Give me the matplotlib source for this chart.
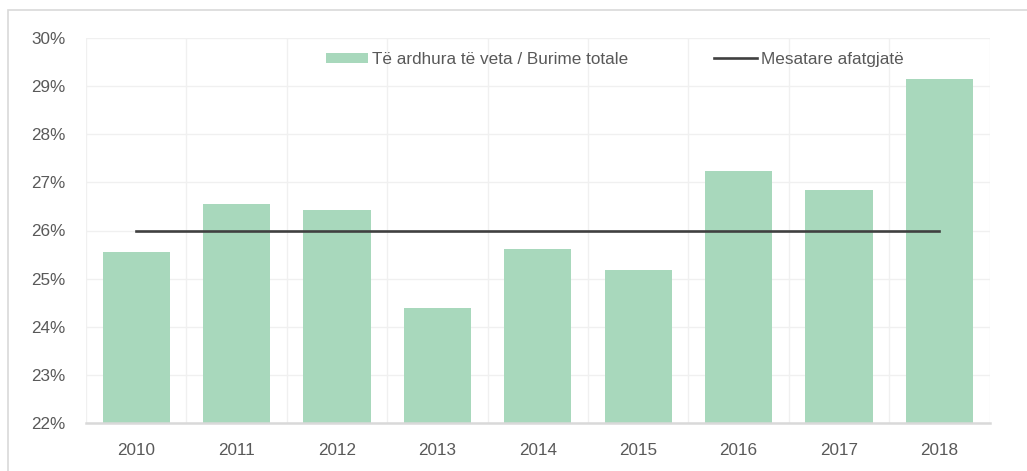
import matplotlib
matplotlib.use("Agg")
import matplotlib.pyplot as plt
from matplotlib.patches import Rectangle
from matplotlib.ticker import FuncFormatter
import numpy as np

years = ["2010", "2011", "2012", "2013", "2014", "2015", "2016", "2017", "2018"]
own_revenue_share = [25.55, 26.56, 26.42, 24.39, 25.62, 25.18, 27.24, 26.83, 29.14]
long_term_mean = [26.0] * len(years)

plt.rcParams["font.family"] = ["Liberation Sans", "DejaVu Sans"]
text_color = "#595959"
bar_color = "#a8d8bc"
line_color = "#404040"
fs = 12.3

fig = plt.figure(figsize=(10.27, 4.71), dpi=100)
ax = fig.add_axes([86 / 1027, 1 - 423.3 / 471, (989.6 - 86) / 1027, (423.3 - 37.7) / 471])

# outer chart frame (only left and top visible in the reference)
fig.patches.append(Rectangle((8 / 1027, -0.01), 1.02, 1 - 10 / 471 + 0.01,
                             transform=fig.transFigure, fill=False,
                             edgecolor="#d9d9d9", linewidth=1.2))

x = np.arange(len(years))
bars = ax.bar(x, own_revenue_share, width=0.67, color=bar_color, zorder=2,
              label="Të ardhura të veta / Burime totale")
line, = ax.plot(x, long_term_mean, color=line_color, linewidth=1.9, zorder=3,
                label="Mesatare afatgjatë")

ax.set_xlim(-0.5, len(years) - 0.5)
ax.set_ylim(22, 30)
ax.set_yticks(np.arange(22, 31, 1))
ax.yaxis.set_major_formatter(FuncFormatter(lambda v, _: f"{v:.0f}%"))
ax.set_xticks(x)
ax.set_xticklabels(years)

# grid at category boundaries and at each percent
ax.set_xticks(np.arange(-0.5, len(years), 1), minor=True)
ax.grid(True, which="minor", axis="x", color="#f0f0f0", linewidth=1, zorder=0)
ax.grid(True, which="major", axis="y", color="#f0f0f0", linewidth=1, zorder=0)
ax.set_axisbelow(True)

for side in ["top", "right", "left"]:
    ax.spines[side].set_visible(False)
ax.spines["bottom"].set_color("#d9d9d9")
ax.spines["bottom"].set_linewidth(1.8)

ax.tick_params(axis="both", which="both", length=0, colors=text_color, labelsize=fs)
ax.tick_params(axis="x", pad=14)
ax.tick_params(axis="y", pad=15)

ax.legend([bars, line], [bars.get_label(), line.get_label()],
          loc="upper center", bbox_to_anchor=(0.585, 1.003), ncol=2, frameon=False,
          fontsize=fs, columnspacing=5.0, handlelength=2.5, handletextpad=0.23,
          handleheight=0.5, labelcolor=text_color)

fig.savefig("out.png", dpi=100)
